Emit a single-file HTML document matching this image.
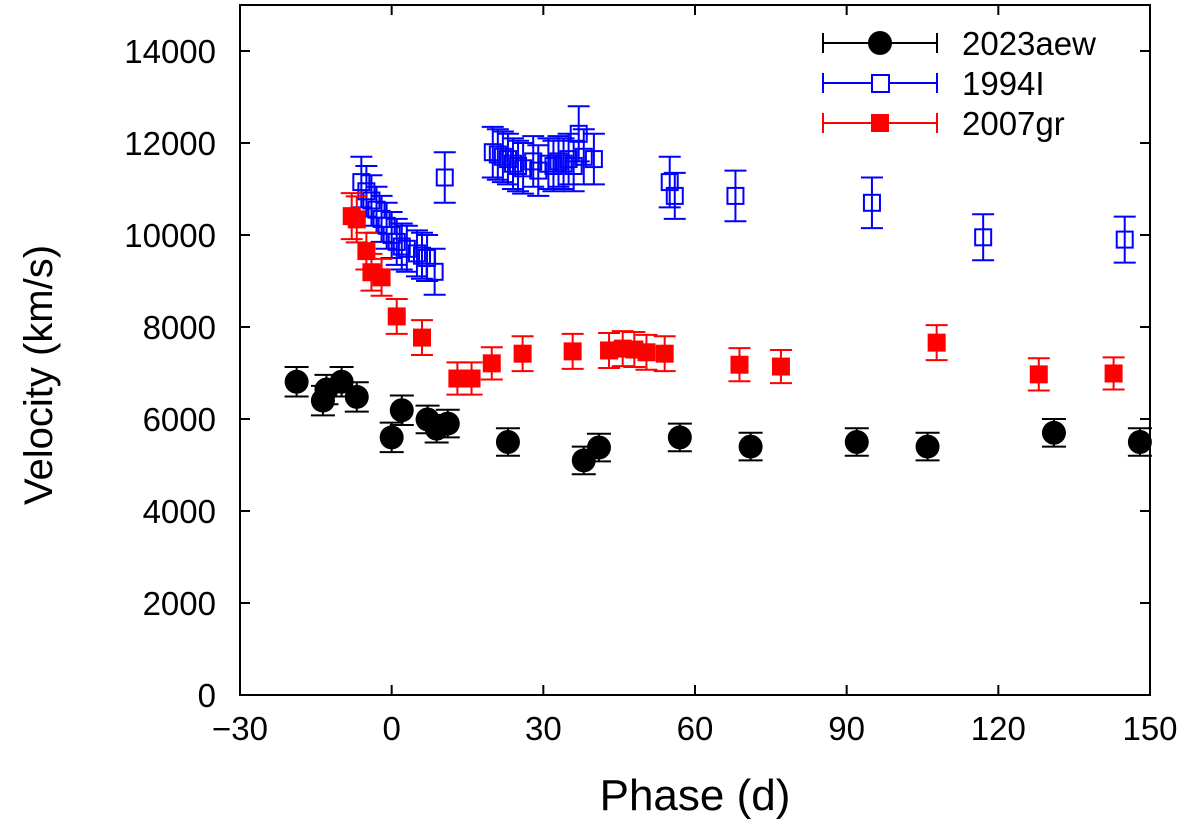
<!DOCTYPE html>
<html><head><meta charset="utf-8"><style>
html,body{margin:0;padding:0;background:#fff;}
svg text{font-family:"Liberation Sans",sans-serif;}
</style></head><body>
<svg id="chart" width="1200" height="823" xmlns="http://www.w3.org/2000/svg">
<g id="plot"></g>
</svg>
<script>
const xTicks=[-30,0,30,60,90,120,150];
const xTickLabels=["\u221230","0","30","60","90","120","150"];
const yTicks=[0,2000,4000,6000,8000,10000,12000,14000];
const aewPhase=[-18.8,-13.6,-12.9,-9.9,-6.9,0,2,7.1,8.9,11.1,23,38,41,57,71,92,106,131,148];
const aewVel=[6810,6400,6640,6810,6480,5600,6190,5990,5790,5900,5500,5100,5380,5600,5400,5500,5400,5700,5500];
const aewErr=[320,320,320,320,320,320,320,300,300,300,300,300,300,300,300,300,300,300,300];
const i94Phase=[-6,-5,-4,-3,-2,-1,0,1,2,3,5,6,7,8.5,10.5,20,21,22,23,24,25,26,28,29,31,32,33,34,35,36,37,38,40,55,56,68,95,117,145];
const i94Vel=[11150,10950,10750,10550,10350,10200,10000,9850,9750,9700,9600,9550,9500,9200,11250,11800,11750,11700,11650,11550,11500,11450,11600,11400,11550,11500,11600,11550,11650,11500,12200,11700,11650,11150,10850,10850,10700,9950,9900];
const i94Err=[550,550,550,500,500,500,500,500,500,500,500,500,500,500,550,550,550,550,550,550,550,550,550,550,550,550,550,550,550,550,600,600,550,550,500,550,550,500,500];
const grPhase=[-7.9,-6.9,-5,-4,-2,1,6,13,15.8,19.8,25.9,35.8,43,45.7,48,50.4,54,68.8,77,107.8,128,142.8];
const grVel=[10410,10340,9650,9190,9080,8230,7770,6880,6880,7210,7420,7470,7490,7530,7510,7450,7420,7180,7140,7660,6970,6990];
const grErr=[500,500,400,400,400,380,380,350,350,350,380,380,380,380,380,380,380,360,360,380,350,350];

const L=240,R=1150,T=5,B=695;
const X=v=>L+(v+30)/180*(R-L);
const Y=v=>B-v/15000*(B-T);
const NS="http://www.w3.org/2000/svg";
const g=document.getElementById('plot');
function mk(tag,attrs,parent){const e=document.createElementNS(NS,tag);for(const k in attrs)e.setAttribute(k,attrs[k]);(parent||g).appendChild(e);return e;}

function errbar(x,y,e,col,cap,grp){
  mk('line',{x1:x,x2:x,y1:Y(y-e),y2:Y(y+e),stroke:col,'stroke-width':2},grp);
  mk('line',{x1:x-cap,x2:x+cap,y1:Y(y-e),y2:Y(y-e),stroke:col,'stroke-width':2},grp);
  mk('line',{x1:x-cap,x2:x+cap,y1:Y(y+e),y2:Y(y+e),stroke:col,'stroke-width':2},grp);
}
const gI=mk('g',{});


i94Phase.forEach((p,i)=>{
  const x=X(p),y=i94Vel[i];
  errbar(x,y,i94Err[i],'#0000ff',11,gI);
  const r=mk('rect',{x:x-8,y:Y(y)-8,width:16,height:16,fill:'none',stroke:'#0000ff','stroke-width':2},gI);
  
  
});
const gG=mk('g',{});


grPhase.forEach((p,i)=>{
  const x=X(p),y=grVel[i];
  errbar(x,y,grErr[i],'#ff0000',11,gG);
  const r=mk('rect',{x:x-9,y:Y(y)-9,width:18,height:18,fill:'#ff0000'},gG);
  
  
});
const gA=mk('g',{});


aewPhase.forEach((p,i)=>{
  const x=X(p),y=aewVel[i];
  errbar(x,y,aewErr[i],'#000',12,gA);
  const c=mk('circle',{cx:x,cy:Y(y),r:12,fill:'#000'},gA);
  
  
});

const fr=mk('rect',{x:L,y:T,width:R-L,height:B-T,fill:'none',stroke:'#000','stroke-width':2});


xTicks.forEach((v,i)=>{
  const x=X(v);
  mk('line',{x1:x,x2:x,y1:B,y2:B-10,stroke:'#000','stroke-width':2});
  mk('line',{x1:x,x2:x,y1:T,y2:T+10,stroke:'#000','stroke-width':2});
  const t=mk('text',{x:x,y:B+45,'font-size':33,'text-anchor':'middle'});
  t.textContent=xTickLabels[i];
  
  
});
yTicks.forEach(v=>{
  const y=Y(v);
  mk('line',{x1:L,x2:L+10,y1:y,y2:y,stroke:'#000','stroke-width':2});
  mk('line',{x1:R,x2:R-10,y1:y,y2:y,stroke:'#000','stroke-width':2});
  const t=mk('text',{x:L-24,y:y+12,'font-size':33,'text-anchor':'end'});
  t.textContent=String(v);
  
  
});
const xt=mk('text',{x:695,y:810,'font-size':44,'text-anchor':'middle'});
xt.textContent='Phase (d)';


const yt=mk('text',{x:0,y:0,'font-size':40,'text-anchor':'middle',transform:'translate(52,375) rotate(-90)'});
yt.textContent='Velocity (km/s)';



const legNames=['2023aew','1994I','2007gr'];
const legCols=['#000','#0000ff','#ff0000'];
const legY=[43,83,123];
legNames.forEach((n,i)=>{
  const lg=mk('g',{});
  
  
  const y=legY[i],c=legCols[i];
  mk('line',{x1:823,x2:937,y1:y,y2:y,stroke:c,'stroke-width':2},lg);
  mk('line',{x1:823,x2:823,y1:y-10,y2:y+10,stroke:c,'stroke-width':2},lg);
  mk('line',{x1:937,x2:937,y1:y-10,y2:y+10,stroke:c,'stroke-width':2},lg);
  if(i===0)mk('circle',{cx:880,cy:y,r:12,fill:'#000'},lg);
  if(i===1)mk('rect',{x:872,y:y-8,width:17,height:17,fill:'#fff',stroke:c,'stroke-width':2},lg);
  if(i===2)mk('rect',{x:871,y:y-9,width:18,height:18,fill:c},lg);
  const t=mk('text',{x:962,y:y+12,'font-size':33},lg);
  t.textContent=n;
});
</script>
</body></html>
